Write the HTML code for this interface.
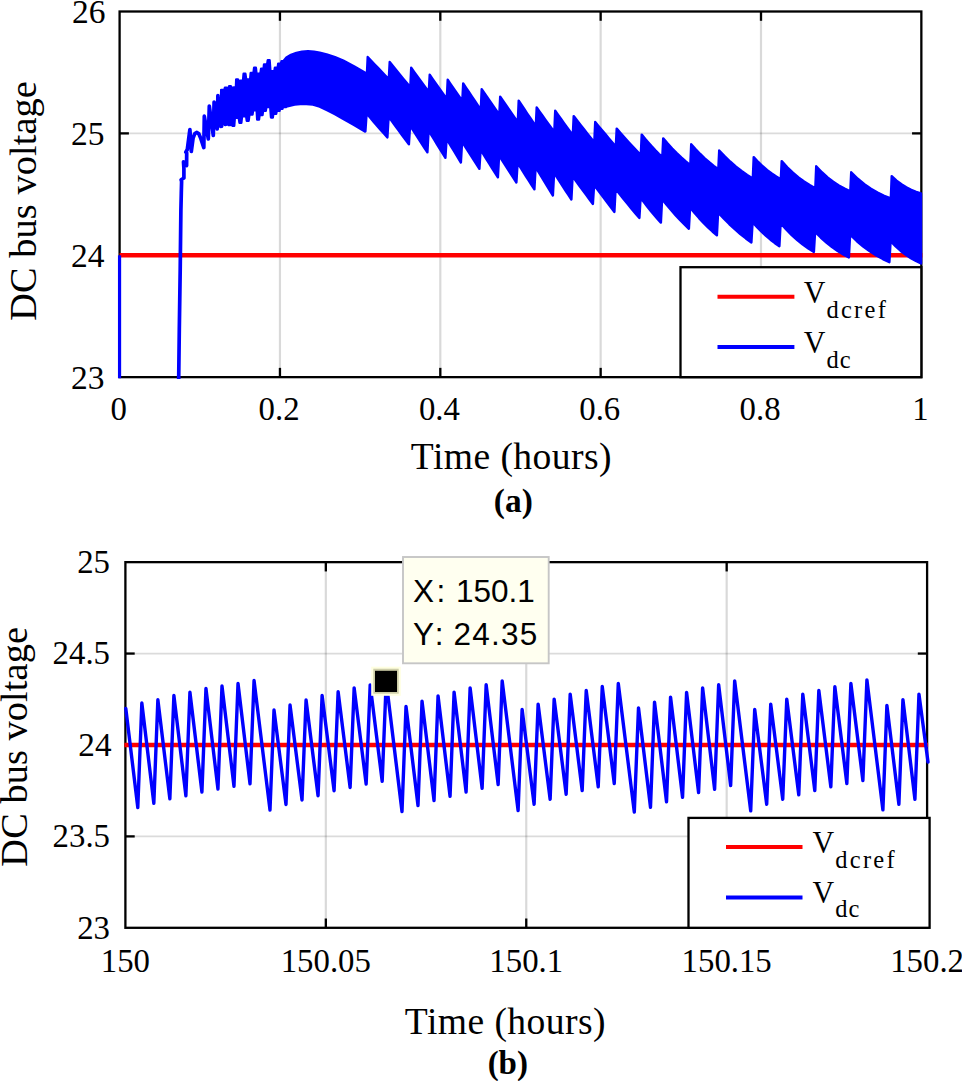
<!DOCTYPE html>
<html><head><meta charset="utf-8"><title>DC bus voltage</title>
<style>
html,body{margin:0;padding:0;background:#fff;}
body{width:962px;height:1081px;overflow:hidden;font-family:"Liberation Serif",serif;}
svg{display:block;}
text{white-space:pre;}
</style></head><body>
<svg width="962" height="1081" viewBox="0 0 962 1081">
<rect x="0" y="0" width="962" height="1081" fill="#ffffff"/>
<line x1="279.95" y1="11.5" x2="279.95" y2="377.15" stroke="#000" stroke-opacity="0.15" stroke-width="2.2"/>
<line x1="440.3" y1="11.5" x2="440.3" y2="377.15" stroke="#000" stroke-opacity="0.15" stroke-width="2.2"/>
<line x1="600.65" y1="11.5" x2="600.65" y2="377.15" stroke="#000" stroke-opacity="0.15" stroke-width="2.2"/>
<line x1="761" y1="11.5" x2="761" y2="377.15" stroke="#000" stroke-opacity="0.15" stroke-width="2.2"/>
<line x1="119.6" y1="255.27" x2="921.35" y2="255.27" stroke="#000" stroke-opacity="0.14" stroke-width="1.7"/>
<line x1="119.6" y1="133.38" x2="921.35" y2="133.38" stroke="#000" stroke-opacity="0.14" stroke-width="1.7"/>
<rect x="119.6" y="11.5" width="801.75" height="365.65" fill="none" stroke="#000" stroke-width="2.3"/>
<line x1="279.95" y1="377.15" x2="279.95" y2="367.85" stroke="#000" stroke-width="2.3"/>
<line x1="279.95" y1="11.5" x2="279.95" y2="20.8" stroke="#000" stroke-width="2.3"/>
<line x1="440.3" y1="377.15" x2="440.3" y2="367.85" stroke="#000" stroke-width="2.3"/>
<line x1="440.3" y1="11.5" x2="440.3" y2="20.8" stroke="#000" stroke-width="2.3"/>
<line x1="600.65" y1="377.15" x2="600.65" y2="367.85" stroke="#000" stroke-width="2.3"/>
<line x1="600.65" y1="11.5" x2="600.65" y2="20.8" stroke="#000" stroke-width="2.3"/>
<line x1="761" y1="377.15" x2="761" y2="367.85" stroke="#000" stroke-width="2.3"/>
<line x1="761" y1="11.5" x2="761" y2="20.8" stroke="#000" stroke-width="2.3"/>
<line x1="119.6" y1="255.27" x2="128.9" y2="255.27" stroke="#000" stroke-width="2.3"/>
<line x1="921.35" y1="255.27" x2="912.05" y2="255.27" stroke="#000" stroke-width="2.3"/>
<line x1="119.6" y1="133.38" x2="128.9" y2="133.38" stroke="#000" stroke-width="2.3"/>
<line x1="921.35" y1="133.38" x2="912.05" y2="133.38" stroke="#000" stroke-width="2.3"/>
<line x1="119.6" y1="255.27" x2="922.35" y2="255.27" stroke="#ff0000" stroke-width="4.4"/>
<polyline points="119.55,255.3 119.55,378.2" fill="none" stroke="#0000ff" stroke-width="3.2" stroke-linejoin="round"/>
<polyline points="178.7,379 179.3,330 180.2,270 180.9,210 181.3,193 181.6,181.5 181.1,179.8 183.9,178 183.9,168.5 183.5,161.8 186.6,165.5 186.7,153 185.8,152.2 187.3,149.5 189.9,129.6 191.3,151.4 193.1,138 194.8,133.6 196.9,132.4 198.8,133.8 200.6,138 203.8,147.6 204.3,116.2 208.3,139 209.3,106 213.3,135.5 214.1,102 217.2,129 217.9,95.5 221,126.5 222,90.8 225.5,124.5 225.9,88.8" fill="none" stroke="#0000ff" stroke-width="3.7" stroke-linejoin="round" stroke-linecap="butt"/>
<polygon points="221.2,89.9 223,89.9 223.95,91.5 224.9,87.8 226.7,87.8 227.9,89.4 229.1,86.2 230.9,86.2 232.3,89 233.7,87.4 235.5,87.4 235.85,89 236.2,79.5 238,79.5 239.15,82.3 240.3,80.7 242.1,80.7 242.85,82.3 243.6,73.8 245.4,73.8 246.4,81.1 247.4,79.5 249.2,79.5 249.95,81.1 250.7,73 252.5,73 253.3,74.6 254.1,67.8 255.9,67.8 256.65,75.3 257.4,73.7 259.2,73.7 260.15,75.3 261.1,68.7 262.9,68.7 263.45,70.3 264,64.5 265.8,64.5 266.8,66.1 267.8,60.2 269.6,60.2 270.55,72.8 271.5,71.2 273.3,71.2 274.1,72.8 274.9,67.8 276.7,67.8 277.45,69.4 278.2,63.7 280,63.7 280.75,65.3 281.5,61.2 283.3,61.2 286.4,57.6 291,54.9 296.4,52.8 302,51.6 308,51.2 314,51.7 319.7,52.6 326.6,54.3 335,57.2 343.3,60.6 354,66.2 365.7,73 366.8,76.4 367.7,57 371.22,60.76 374.73,64.48 378.25,68.17 381.77,71.83 385.28,75.47 388.8,79.07 389.7,62 393.13,66.29 396.57,70.54 400,74.76 403.43,78.94 406.87,83.08 410.3,87.2 411.2,67.8 414.13,71.88 417.07,75.93 420,79.94 422.93,83.92 425.87,87.86 428.8,91.78 429.7,74.8 432.55,78.88 435.4,82.93 438.25,86.95 441.1,90.94 443.95,94.89 446.8,98.8 447.7,79.8 450.13,83.37 452.57,86.91 455,90.43 457.43,93.91 459.87,97.37 462.3,100.79 463.2,83.4 466.13,87.85 469.07,92.27 472,96.65 474.93,101 477.87,105.31 480.8,109.58 481.7,89.1 484.63,93.43 487.57,97.72 490.5,101.98 493.43,106.2 496.37,110.39 499.3,114.54 500.2,96.6 503.13,100.93 506.07,105.22 509,109.48 511.93,113.7 514.87,117.89 517.8,122.04 518.7,100.6 521.55,104.95 524.4,109.27 527.25,113.55 530.1,117.79 532.95,122 535.8,126.18 536.7,107.4 539.63,111.59 542.57,115.74 545.5,119.86 548.43,123.94 551.37,127.99 554.3,132.01 555.2,110.7 558.13,114.89 561.07,119.04 564,123.16 566.93,127.24 569.87,131.29 572.8,135.31 573.7,116.1 577.13,120.55 580.57,124.96 584,129.33 587.43,133.67 590.87,137.97 594.3,142.23 595.2,122 598.63,126.16 602.07,130.29 605.5,134.39 608.93,138.45 612.37,142.48 615.8,146.47 616.7,128.6 620.72,133.3 624.73,137.88 628.75,142.34 632.77,146.68 636.78,150.91 640.8,155.02 641.7,134.6 645.13,138.8 648.57,142.82 652,146.66 655.43,150.33 658.87,153.85 662.3,157.2 663.2,138.4 667.72,143.61 672.23,148.51 676.75,153.1 681.27,157.41 685.78,161.46 690.3,165.26 691.2,144.2 695.72,149.28 700.23,153.97 704.75,158.29 709.27,162.27 713.78,165.94 718.3,169.32 719.2,150.5 724.8,156.42 730.4,161.78 736,166.63 741.6,171.01 747.2,174.98 752.8,178.57 753.7,157.1 758.22,161.96 762.73,166.28 767.25,170.12 771.77,173.52 776.28,176.55 780.8,179.24 781.7,161.1 787.3,167.3 792.9,172.71 798.5,177.42 804.1,181.54 809.7,185.13 815.3,188.26 816.2,166.3 821.88,172.26 827.57,177.36 833.25,181.72 838.93,185.46 844.62,188.67 850.3,191.41 851.2,172.3 857.8,178.74 864.4,184.16 871,188.72 877.6,192.55 884.2,195.77 890.8,198.48 891.7,176.1 896.58,180.61 901.47,184.31 906.35,187.33 911.23,189.81 916.12,191.84 921,193.5 921,263.5 915.93,261.03 910.87,258.16 905.8,254.82 900.73,250.94 895.67,246.44 890.6,241.21 889.4,262.2 882.85,259.05 876.3,255.42 869.75,251.26 863.2,246.48 856.65,240.99 850.1,234.69 848.9,257.5 843.27,254.43 837.63,250.96 832,247.02 826.37,242.57 820.73,237.53 815.1,231.82 813.9,252 808.35,248.43 802.8,244.44 797.25,239.99 791.7,235.03 786.15,229.49 780.6,223.32 779.4,246.3 774.93,243.16 770.47,239.7 766,235.9 761.53,231.73 757.07,227.14 752.6,222.09 751.4,242.5 745.85,238.42 740.3,234 734.75,229.21 729.2,224.03 723.65,218.41 718.1,212.33 716.9,235.4 712.43,231.49 707.97,227.31 703.5,222.85 699.03,218.08 694.57,213 690.1,207.57 688.9,228.8 684.43,224.46 679.97,219.89 675.5,215.09 671.03,210.04 666.57,204.73 662.1,199.13 660.9,222.6 657.52,218.83 654.13,214.92 650.75,210.87 647.37,206.67 643.98,202.31 640.6,197.8 639.4,218 635.43,213.38 631.47,208.66 627.5,203.84 623.53,198.92 619.57,193.89 615.6,188.75 614.4,212 611.02,207.58 607.63,203.13 604.25,198.65 600.87,194.14 597.48,189.6 594.1,185.03 592.9,204 589.52,199.46 586.13,194.9 582.75,190.3 579.37,185.67 575.98,181.01 572.6,176.32 571.4,199.5 568.52,195.13 565.63,190.73 562.75,186.3 559.87,181.84 556.98,177.35 554.1,172.83 552.9,195.5 550.02,190.85 547.13,186.16 544.25,181.44 541.37,176.69 538.48,171.91 535.6,167.1 534.4,189.4 531.6,185.07 528.8,180.72 526,176.33 523.2,171.92 520.4,167.47 517.6,163 516.4,182.5 513.52,178.07 510.63,173.61 507.75,169.12 504.87,164.6 501.98,160.05 499.1,155.47 497.9,177.4 495.02,172.86 492.13,168.29 489.25,163.69 486.37,159.05 483.48,154.39 480.6,149.7 479.4,168.8 476.52,164.35 473.63,159.88 470.75,155.37 467.87,150.84 464.98,146.27 462.1,141.68 460.9,162.5 458.52,158.61 456.13,154.69 453.75,150.75 451.37,146.77 448.98,142.78 446.6,138.75 445.4,157.8 442.6,153.33 439.8,148.82 437,144.29 434.2,139.73 431.4,135.13 428.6,130.51 427.4,152.4 424.52,148.01 421.63,143.59 418.75,139.14 415.87,134.66 412.98,130.15 410.1,125.61 408.9,144.4 405.52,139.84 402.13,135.25 398.75,130.62 395.37,125.97 391.98,121.29 388.6,116.57 387.4,137.5 383.93,133.57 380.47,129.61 377,125.62 373.53,121.61 370.07,117.57 366.6,113.5 365.4,131.5 364.9,131.5 354,125 343.3,119 335,114.2 326.6,110 319.7,106.6 313,104.6 303,103.8 294.7,104.6 286.4,106.6 285.9,107.1 284.1,107.1 283.3,105.5 282.5,108.7 280.7,108.7 280.15,107.1 279.6,110.8 277.8,110.8 277,109.2 276.2,113.7 274.4,113.7 273.6,112.1 272.8,117.5 271,117.5 270.1,105.5 269.2,107.1 267.4,107.1 266.6,105.5 265.8,110.8 264,110.8 263.25,109.2 262.5,115 260.7,115 259.85,113.4 259,119.6 257.2,119.6 256.55,108.8 255.9,110.4 254.1,110.4 253.3,108.8 252.5,114.6 250.7,114.6 249.65,113 248.6,120.8 246.8,120.8 245.9,114.6 245,116.2 243.2,116.2 242.25,114.6 241.3,122.9 239.5,122.9 238.5,116.3 237.5,117.9 235.7,117.9 234.95,116.3 234.2,125.8 232.4,125.8 231.25,123.4 230.1,125 228.3,125 227.3,122.5 226.3,124.1 224.5,124.1 223.3,122.5 222.1,126.6 220.3,126.6" fill="#0000ff" stroke="#0000ff" stroke-width="2.4" stroke-linejoin="round"/>
<text x="104.6" y="388.65" font-size="33.5" text-anchor="end" font-family="Liberation Serif, serif"  fill="#000">23</text>
<text x="104.6" y="266.77" font-size="33.5" text-anchor="end" font-family="Liberation Serif, serif"  fill="#000">24</text>
<text x="104.6" y="144.88" font-size="33.5" text-anchor="end" font-family="Liberation Serif, serif"  fill="#000">25</text>
<text x="105.6" y="23" font-size="33.5" text-anchor="end" font-family="Liberation Serif, serif"  fill="#000">26</text>
<text x="118.7" y="420.1" font-size="32.8" text-anchor="middle" font-family="Liberation Serif, serif"  fill="#000">0</text>
<text x="279.05" y="420.1" font-size="32.8" text-anchor="middle" font-family="Liberation Serif, serif"  fill="#000">0.2</text>
<text x="439.4" y="420.1" font-size="32.8" text-anchor="middle" font-family="Liberation Serif, serif"  fill="#000">0.4</text>
<text x="599.75" y="420.1" font-size="32.8" text-anchor="middle" font-family="Liberation Serif, serif"  fill="#000">0.6</text>
<text x="760.1" y="420.1" font-size="32.8" text-anchor="middle" font-family="Liberation Serif, serif"  fill="#000">0.8</text>
<text x="920.45" y="420.1" font-size="32.8" text-anchor="middle" font-family="Liberation Serif, serif"  fill="#000">1</text>
<text x="511.4" y="469.3" font-size="37.6" text-anchor="middle" font-family="Liberation Serif, serif" letter-spacing="0.43" fill="#000">Time (hours)</text>
<text x="513.3" y="512" font-size="33.4" text-anchor="middle" font-family="Liberation Serif, serif" font-weight="bold" fill="#000">(a)</text>
<text transform="translate(35.8,200.9) rotate(-90)" font-size="38.3" letter-spacing="0.1" text-anchor="middle" font-family="Liberation Serif, serif" fill="#000">DC bus voltage</text>
<rect x="680.5" y="267.2" width="240.85" height="109.95" fill="#fff" stroke="#000" stroke-width="2.3"/>
<line x1="717.5" y1="296.8" x2="794.4" y2="296.8" stroke="#ff0000" stroke-width="4.0"/>
<line x1="717.5" y1="347" x2="794.4" y2="347" stroke="#0000ff" stroke-width="4.0"/>
<text transform="translate(803.8,302.7) scale(1,1.06)" font-size="30" font-family="Liberation Serif, serif" fill="#000">V</text>
<text transform="translate(803.8,353) scale(1,1.06)" font-size="30" font-family="Liberation Serif, serif" fill="#000">V</text>
<text x="826.4" y="317.6" font-size="24.5" text-anchor="start" font-family="Liberation Serif, serif" letter-spacing="2.3" fill="#000">dcref</text>
<text x="826.4" y="367.6" font-size="24.5" text-anchor="start" font-family="Liberation Serif, serif" letter-spacing="1.0" fill="#000">dc</text>
<line x1="325.83" y1="562.15" x2="325.83" y2="927.8" stroke="#000" stroke-opacity="0.15" stroke-width="2.2"/>
<line x1="526.25" y1="562.15" x2="526.25" y2="927.8" stroke="#000" stroke-opacity="0.15" stroke-width="2.2"/>
<line x1="726.68" y1="562.15" x2="726.68" y2="927.8" stroke="#000" stroke-opacity="0.15" stroke-width="2.2"/>
<line x1="125.4" y1="836.39" x2="927.1" y2="836.39" stroke="#000" stroke-opacity="0.14" stroke-width="1.7"/>
<line x1="125.4" y1="744.97" x2="927.1" y2="744.97" stroke="#000" stroke-opacity="0.14" stroke-width="1.7"/>
<line x1="125.4" y1="653.56" x2="927.1" y2="653.56" stroke="#000" stroke-opacity="0.14" stroke-width="1.7"/>
<rect x="125.4" y="562.15" width="801.7" height="365.65" fill="none" stroke="#000" stroke-width="2.3"/>
<line x1="325.83" y1="927.8" x2="325.83" y2="918.5" stroke="#000" stroke-width="2.3"/>
<line x1="325.83" y1="562.15" x2="325.83" y2="571.45" stroke="#000" stroke-width="2.3"/>
<line x1="526.25" y1="927.8" x2="526.25" y2="918.5" stroke="#000" stroke-width="2.3"/>
<line x1="526.25" y1="562.15" x2="526.25" y2="571.45" stroke="#000" stroke-width="2.3"/>
<line x1="726.68" y1="927.8" x2="726.68" y2="918.5" stroke="#000" stroke-width="2.3"/>
<line x1="726.68" y1="562.15" x2="726.68" y2="571.45" stroke="#000" stroke-width="2.3"/>
<line x1="125.4" y1="836.39" x2="134.7" y2="836.39" stroke="#000" stroke-width="2.3"/>
<line x1="927.1" y1="836.39" x2="917.8" y2="836.39" stroke="#000" stroke-width="2.3"/>
<line x1="125.4" y1="744.97" x2="134.7" y2="744.97" stroke="#000" stroke-width="2.3"/>
<line x1="927.1" y1="744.97" x2="917.8" y2="744.97" stroke="#000" stroke-width="2.3"/>
<line x1="125.4" y1="653.56" x2="134.7" y2="653.56" stroke="#000" stroke-width="2.3"/>
<line x1="927.1" y1="653.56" x2="917.8" y2="653.56" stroke="#000" stroke-width="2.3"/>
<line x1="124.4" y1="744.97" x2="928.1" y2="744.97" stroke="#ff0000" stroke-width="4.4"/>
<polyline points="125.8,708.5 137.8,807.5 141.83,703 153.83,803.25 157.86,699.75 169.86,798.75 173.89,695.5 185.89,795.75 189.92,692.25 201.92,792 205.95,688.5 217.95,789 221.98,686 233.98,786.25 238.01,683.5 250.01,783.75 254.04,680.5 270,810 274,710 286,804.5 290.03,705 302.03,800 306.06,700 318.06,795.75 322.09,695.5 334.09,790.75 338.12,691.75 350.12,787.5 354.15,687.9 366.15,784 370.18,684.9 382.18,781.25 386.21,681.5 402,811.5 406,706.5 418,805.5 422.03,701.1 434.03,800.5 438.06,695.9 450.06,796.2 454.09,692.1 466.09,792 470.12,687.9 482.12,788.2 486.15,684.7 498.15,784.5 502.18,680.9 518.1,810.5 522.1,709.5 534.1,804.2 538.13,704.1 550.13,799.2 554.16,699.1 566.16,794.2 570.19,694.1 582.19,790.5 586.22,690.5 598.22,786.7 602.25,686.5 614.25,783.5 618.28,683.5 634.3,812.1 638.5,707.9 650.5,807.2 654.53,702.1 666.53,801.7 670.56,697.1 682.56,797.2 686.59,692.4 698.59,792.5 702.62,687.9 714.62,789.2 718.65,684.7 730.65,785.5 734.68,680.9 750.7,810.9 754.7,709.5 766.7,804.2 770.73,704.1 782.73,799.2 786.76,699.1 798.76,794.7 802.79,694.1 814.79,790.5 818.82,690.5 830.82,786.7 834.85,686.7 846.85,783.5 850.88,683.5 862.88,780.5 866.91,679.9 882.9,809.9 886.9,705.4 898.9,804.2 902.93,699.6 914.93,799.2 918.96,694.1 928,762" fill="none" stroke="#0000ff" stroke-width="3.4" stroke-linejoin="round" stroke-linecap="round"/>
<text x="110" y="938.7" font-size="32.8" text-anchor="end" font-family="Liberation Serif, serif"  fill="#000">23</text>
<text x="110" y="847.29" font-size="32.8" text-anchor="end" font-family="Liberation Serif, serif"  fill="#000">23.5</text>
<text x="111.5" y="755.87" font-size="33.2" text-anchor="end" font-family="Liberation Serif, serif"  fill="#000">24</text>
<text x="110" y="664.46" font-size="32.8" text-anchor="end" font-family="Liberation Serif, serif"  fill="#000">24.5</text>
<text x="110" y="573.05" font-size="32.8" text-anchor="end" font-family="Liberation Serif, serif"  fill="#000">25</text>
<text x="125.4" y="971.5" font-size="32.8" text-anchor="middle" font-family="Liberation Serif, serif"  fill="#000">150</text>
<text x="325.83" y="971.5" font-size="32.8" text-anchor="middle" font-family="Liberation Serif, serif"  fill="#000">150.05</text>
<text x="526.25" y="971.5" font-size="32.8" text-anchor="middle" font-family="Liberation Serif, serif"  fill="#000">150.1</text>
<text x="726.68" y="971.5" font-size="32.8" text-anchor="middle" font-family="Liberation Serif, serif"  fill="#000">150.15</text>
<text x="927.1" y="971.5" font-size="32.8" text-anchor="middle" font-family="Liberation Serif, serif"  fill="#000">150.2</text>
<text x="505.4" y="1033.5" font-size="37.6" text-anchor="middle" font-family="Liberation Serif, serif" letter-spacing="0.43" fill="#000">Time (hours)</text>
<text x="507.8" y="1074" font-size="33" text-anchor="middle" font-family="Liberation Serif, serif" font-weight="bold" fill="#000">(b)</text>
<text transform="translate(27.1,746.8) rotate(-90)" font-size="38.3" letter-spacing="0.1" text-anchor="middle" font-family="Liberation Serif, serif" fill="#000">DC bus voltage</text>
<rect x="688.5" y="817.9" width="241.1" height="109.9" fill="#fff" stroke="#000" stroke-width="2.3"/>
<line x1="726" y1="847" x2="802.5" y2="847" stroke="#ff0000" stroke-width="4.0"/>
<line x1="726" y1="897.5" x2="802.5" y2="897.5" stroke="#0000ff" stroke-width="4.0"/>
<text transform="translate(812.5,852.8) scale(1,1.06)" font-size="30" font-family="Liberation Serif, serif" fill="#000">V</text>
<text transform="translate(812.5,902.8) scale(1,1.06)" font-size="30" font-family="Liberation Serif, serif" fill="#000">V</text>
<text x="835.2" y="868" font-size="24.5" text-anchor="start" font-family="Liberation Serif, serif" letter-spacing="2.3" fill="#000">dcref</text>
<text x="835.2" y="917" font-size="24.5" text-anchor="start" font-family="Liberation Serif, serif" letter-spacing="1.0" fill="#000">dc</text>
<rect x="403.0" y="557.0" width="145.7" height="106.3" fill="#fffff0" stroke="#c6c6c6" stroke-width="1.9"/>
<text x="413" y="602.4" font-size="31.5" text-anchor="start" font-family="Liberation Sans, sans-serif" letter-spacing="2.5" fill="#000">X:</text>
<text x="456" y="602.4" font-size="31.5" text-anchor="start" font-family="Liberation Sans, sans-serif"  fill="#000">150.1</text>
<text x="413" y="644.8" font-size="31.5" text-anchor="start" font-family="Liberation Sans, sans-serif" letter-spacing="2.5" fill="#000">Y:</text>
<text x="453.4" y="644.8" font-size="31.5" text-anchor="start" font-family="Liberation Sans, sans-serif" letter-spacing="1.25" fill="#000">24.35</text>
<rect x="371.2" y="666.7" width="29.6" height="29.1" fill="#ffffe1"/>
<rect x="373.3" y="668.7" width="25.4" height="25.0" fill="#cdcda8"/>
<rect x="375.0" y="670.8" width="22.0" height="21.2" fill="#000"/>
</svg>
</body></html>
